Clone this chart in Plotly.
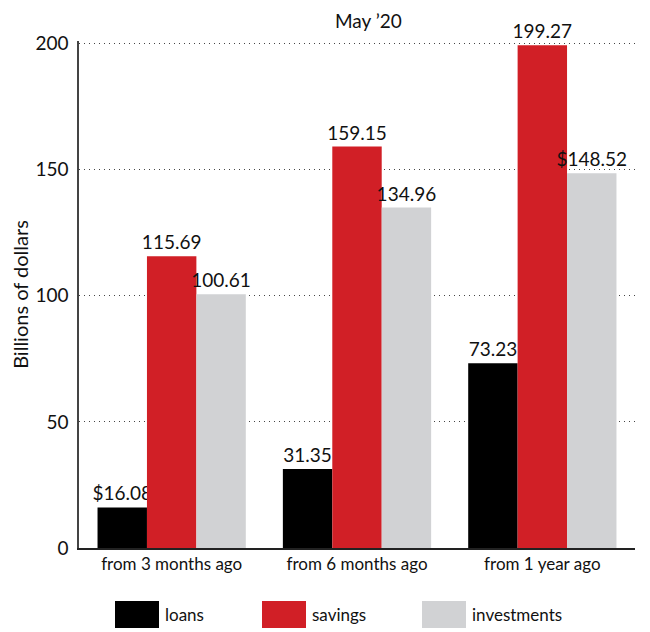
import plotly.graph_objects as go

categories = ["from 3 months ago", "from 6 months ago", "from 1 year ago"]
series_names = ["loans", "savings", "investments"]
loans = [16.08, 31.35, 73.23]
savings = [115.69, 159.15, 199.27]
investments = [100.61, 134.96, 148.52]
loans_labels = ["$16.08", "31.35", "73.23"]
savings_labels = ["115.69", "159.15", "199.27"]
investments_labels = ["100.61", "134.96", "$148.52"]
colors = ["#000000", "#D11F26", "#D1D2D4"]
y_ticks = [0, 50, 100, 150, 200]
title_text = "May \u201920"
y_title = "Billions of dollars"

FONT = "Lato"
# page has an 8px body margin; size the figure so the plot lands where the reference is
OFF = 8
W, H = 650 - OFF, 632 - OFF
PX0, PX1 = 79, 635          # plot left/right on screen
PY0 = 548                   # y=0 on screen
PPU = 2.52                  # pixels per unit
YMAX = 201
PTOP = PY0 - YMAX * PPU     # plot top on screen


def paper_x(sx):
    return (sx - PX0) / (PX1 - PX0)


def paper_y(sy):
    return (PY0 - sy) / (PY0 - PTOP)


fig = go.Figure()
for name, vals, labs, col in zip(series_names, [loans, savings, investments],
                                 [loans_labels, savings_labels, investments_labels], colors):
    fig.add_trace(go.Bar(
        x=categories, y=vals, name=name, marker=dict(color=col, line=dict(width=0)),
        text=labs, textposition="outside", cliponaxis=False, constraintext="none",
        textfont=dict(family=FONT, size=19, color="#111"),
    ))

fig.update_layout(
    width=W, height=H,
    margin=dict(l=PX0 - OFF, r=W - (PX1 - OFF), t=PTOP - OFF, b=H - (PY0 - OFF), pad=0),
    paper_bgcolor="white", plot_bgcolor="white",
    barmode="group", bargap=0.2, bargroupgap=0,
    showlegend=False,
    font=dict(family=FONT, size=17, color="#111"),
)
fig.update_yaxes(
    range=[0, YMAX], tickvals=y_ticks, showgrid=True, gridcolor="#444",
    griddash="1px,4px", gridwidth=1.2, showline=True, linecolor="#444", linewidth=1.5,
    zeroline=False, ticks="", ticklabelstandoff=5, automargin=False,
    title=dict(text=y_title, font=dict(family=FONT, size=20), standoff=6),
    tickfont=dict(family=FONT, size=19),
)
fig.update_xaxes(
    showline=True, linecolor="#222", linewidth=1.5, ticks="", automargin=False,
    tickfont=dict(family=FONT, size=17),
)
fig.add_annotation(text=title_text, xref="paper", yref="paper", x=paper_x(368),
                   y=paper_y(8), yanchor="top", showarrow=False,
                   font=dict(family=FONT, size=19, color="#111"))

# custom legend with large swatches
leg_x = [115, 262, 422]
for name, col, px in zip(series_names, colors, leg_x):
    fig.add_shape(type="rect", xref="paper", yref="paper",
                  x0=paper_x(px), x1=paper_x(px + 44), y0=paper_y(601), y1=paper_y(628),
                  fillcolor=col, line=dict(width=0))
    fig.add_annotation(text=name, xref="paper", yref="paper",
                       x=paper_x(px + 48), y=paper_y(614),
                       xanchor="left", yanchor="middle", showarrow=False,
                       font=dict(family=FONT, size=17, color="#111"))

fig.write_html("out.html")
